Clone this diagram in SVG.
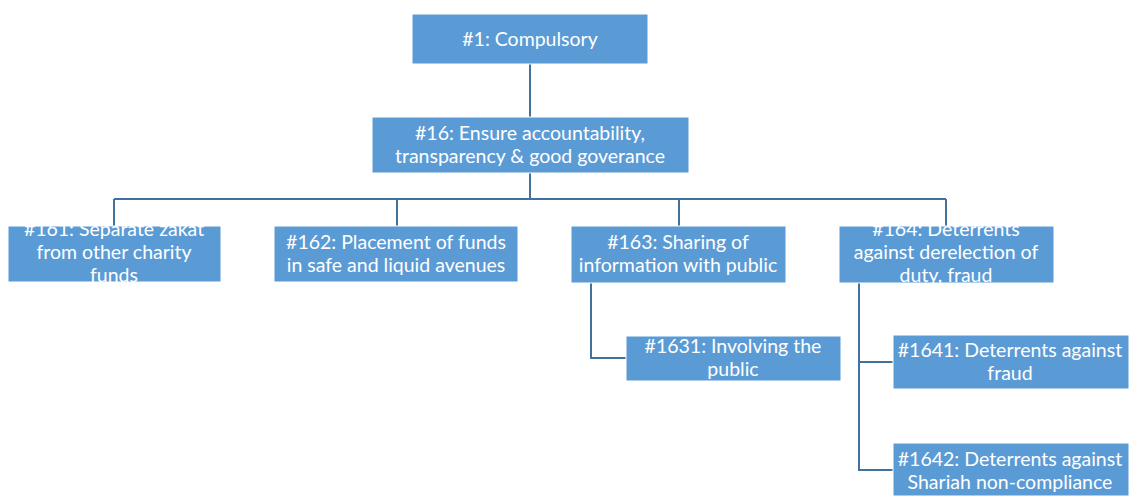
<svg xmlns="http://www.w3.org/2000/svg" width="1130" height="496" viewBox="0 0 1130 496">
  <style>
    .box { fill: #5b9bd5; stroke: #ffffff; stroke-width: 1; }
    .lbl { fill: #ffffff; font-family: Lato, "Liberation Sans", sans-serif; font-size: 19.5px; text-anchor: middle; }
    .wire { fill: none; stroke: #41719c; stroke-width: 2; }
  </style>
  <rect width="1130" height="496" fill="#ffffff"/>

  <!-- connectors -->
  <g id="connectors">
    <path class="wire" d="M530 64 V117"/>
    <path class="wire" d="M530 173 V199 M114 199 H946 M114 199 V226 M397 199 V226 M679 199 V226 M946 199 V226"/>
    <path class="wire" d="M591 283 V358 H626"/>
    <path class="wire" d="M859 283 V470 H893 M859 362 H893"/>
  </g>

  <!-- nodes: text y values are baselines -->
  <g id="n1">
    <rect class="box" x="412" y="14" width="236" height="50"/>
    <text class="lbl" x="530" y="46">#1: Compulsory</text>
  </g>
  <g id="n16">
    <rect class="box" x="372" y="117" width="317" height="56"/>
    <text class="lbl" x="530" y="140">#16: Ensure accountability,</text>
    <text class="lbl" x="530" y="163">transparency &amp; good goverance</text>
  </g>
  <g id="n161">
    <rect class="box" x="8" y="226" width="213" height="56"/>
    <text class="lbl" x="114" y="236">#161: Separate zakat</text>
    <text class="lbl" x="114" y="259">from other charity</text>
    <text class="lbl" x="114" y="282">funds</text>
  </g>
  <g id="n162">
    <rect class="box" x="274" y="226" width="244" height="56"/>
    <text class="lbl" x="396" y="249">#162: Placement of funds</text>
    <text class="lbl" x="396" y="272">in safe and liquid avenues</text>
  </g>
  <g id="n163">
    <rect class="box" x="571" y="226" width="215" height="57"/>
    <text class="lbl" x="678" y="249">#163: Sharing of</text>
    <text class="lbl" x="678" y="272">information with public</text>
  </g>
  <g id="n164">
    <rect class="box" x="839" y="226" width="215" height="57"/>
    <text class="lbl" x="946" y="236">#164: Deterrents</text>
    <text class="lbl" x="946" y="259">against derelection of</text>
    <text class="lbl" x="946" y="282">duty, fraud</text>
  </g>
  <g id="n1631">
    <rect class="box" x="626" y="336" width="215" height="45"/>
    <text class="lbl" x="733" y="353">#1631: Involving the</text>
    <text class="lbl" x="733" y="376">public</text>
  </g>
  <g id="n1641">
    <rect class="box" x="893" y="335" width="236" height="54"/>
    <text class="lbl" x="1010" y="357">#1641: Deterrents against</text>
    <text class="lbl" x="1010" y="380">fraud</text>
  </g>
  <g id="n1642">
    <rect class="box" x="893" y="443" width="236" height="53"/>
    <text class="lbl" x="1010" y="466">#1642: Deterrents against</text>
    <text class="lbl" x="1010" y="489">Shariah non-compliance</text>
  </g>
</svg>
